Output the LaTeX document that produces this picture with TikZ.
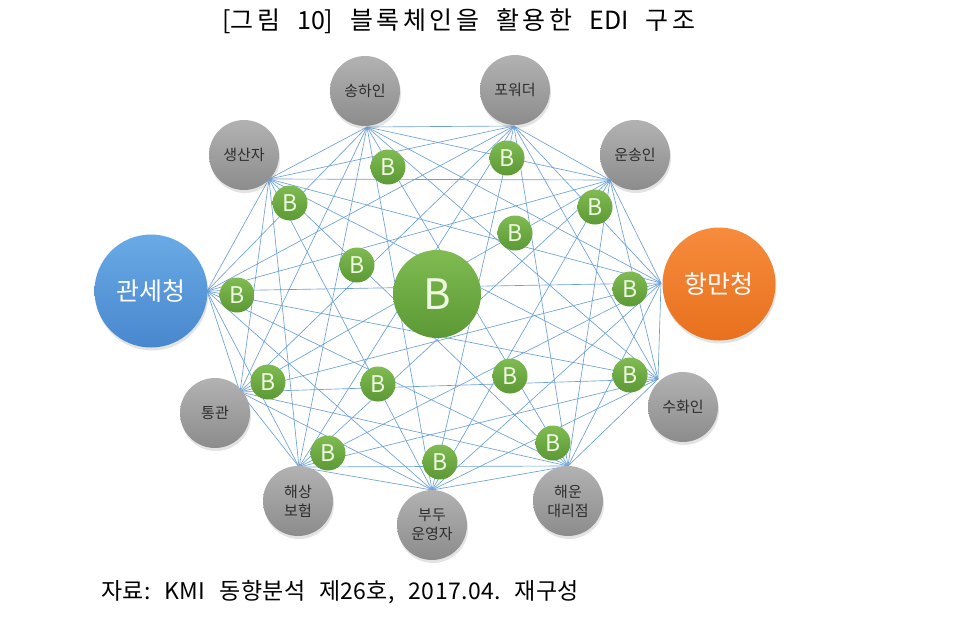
\documentclass[tikz,border=0pt]{standalone}
\usepackage{fontspec}
\setmainfont{Noto Sans CJK KR}
\newfontfamily\hanfont[LetterSpace=14]{Noto Sans CJK KR}
\newfontfamily\srcfont[LetterSpace=1.5]{Noto Sans CJK KR}
\usetikzlibrary{shadows}
\definecolor{linkc}{RGB}{105,160,218}
\definecolor{grayT}{RGB}{178,178,178}
\definecolor{grayB}{RGB}{140,140,140}
\definecolor{labc}{RGB}{45,45,45}
\definecolor{greenT}{RGB}{128,188,82}
\definecolor{greenB}{RGB}{92,152,52}
\definecolor{btxt}{RGB}{238,248,225}
\definecolor{blueT}{RGB}{105,170,230}
\definecolor{blueB}{RGB}{72,135,205}
\definecolor{orangeT}{RGB}{246,140,60}
\definecolor{orangeB}{RGB}{232,112,30}
\newcommand{\wsp}{\hspace{14pt}}
\newcommand{\tsp}{\hspace{17pt}}
\newcommand{\hw}[1]{{\hanfont #1}}
\begin{document}
\begin{tikzpicture}[x=1pt,y=-1pt,
  link/.style={draw=linkc,line width=0.65pt},
  shad/.style={drop shadow={opacity=0.22,shadow xshift=1pt,shadow yshift=-3pt}},
  actor/.style={circle,inner sep=0pt,minimum size=70pt,top color=grayT,bottom color=grayB,
    shad,text=labc,align=center,font=\fontsize{15}{19}\selectfont},
  authority/.style={circle,inner sep=0pt,minimum size=113pt,shad,text=white,
    font=\fontsize{25}{28}\selectfont},
  blk/.style={circle,inner sep=0pt,minimum size=35pt,top color=greenT,bottom color=greenB,
    text=btxt,font=\fontsize{23}{23}\selectfont},
  bigblk/.style={circle,inner sep=0pt,minimum size=88pt,top color=greenT,bottom color=greenB,
    text=btxt,font=\fontsize{42}{42}\selectfont},
  caption/.style={inner sep=0pt,text=black}
]
\useasboundingbox (0,0) rectangle (956,627);

% hub points on the circle edges
\coordinate (h1) at (269,179);  % 생산자
\coordinate (h2) at (367,127);  % 송하인
\coordinate (h3) at (514,126);  % 포워더
\coordinate (h4) at (610,180);  % 운송인
\coordinate (h5) at (661,283);  % 항만청
\coordinate (h6) at (658,379);  % 수화인
\coordinate (h7) at (568,466);  % 해운대리점
\coordinate (h8) at (432,490);  % 부두운영자
\coordinate (h9) at (299,467);  % 해상보험
\coordinate (h10) at (240,392); % 통관
\coordinate (h11) at (207,291); % 관세청

\foreach \i in {1,...,10}{
  \pgfmathtruncatemacro\jstart{\i+1}
  \foreach \j in {\jstart,...,11}{
    \draw[link] (h\i) -- (h\j);
  }
}

% participants
\node[actor] (gs) at (244,155) {생산자};
\node[actor] (sh) at (365,91) {송하인};
\node[actor] (fw) at (515,90) {포워더};
\node[actor] (un) at (635,155) {운송인};
\node[actor] (su) at (683,407) {수화인};
\node[actor] (hd) at (568,501) {해운\\대리점};
\node[actor] (bd) at (432,525) {부두\\운영자};
\node[actor] (hb) at (298,501) {해상\\보험};
\node[actor] (tg) at (215,413) {통관};
\node[authority,top color=blueT,bottom color=blueB] (gw) at (151,291) {관세청};
\node[authority,top color=orangeT,bottom color=orangeB] (hm) at (719,284) {항만청};

% blocks
\node[bigblk] (b0) at (437,294) {B};
\node[blk] (b1) at (388,167) {B};
\node[blk] (b2) at (507,158) {B};
\node[blk] (b3) at (290,203) {B};
\node[blk] (b4) at (595,207) {B};
\node[blk] (b5) at (515,233) {B};
\node[blk] (b6) at (357,265) {B};
\node[blk] (b7) at (237,295) {B};
\node[blk] (b8) at (630,289) {B};
\node[blk] (b9) at (268,382) {B};
\node[blk] (b10) at (378,384) {B};
\node[blk] (b11) at (510,376) {B};
\node[blk] (b12) at (630,375) {B};
\node[blk] (b13) at (328,453) {B};
\node[blk] (b14) at (553,443) {B};
\node[blk] (b15) at (440,462) {B};

% captions
\node[caption,anchor=west,font=\fontsize{25}{27}\selectfont] (title) at (222,21)
  {[\hw{그림}\tsp 10]\tsp\hw{블록체인을}\tsp\hw{활용한}\tsp EDI\tsp\hw{구조}};
\node[caption,anchor=west,font=\srcfont\fontsize{23}{26}\selectfont] (source) at (101,592)
  {자료:\wsp KMI\wsp 동향분석\wsp 제26호,\wsp 2017.04.\wsp 재구성};
\end{tikzpicture}
\end{document}
